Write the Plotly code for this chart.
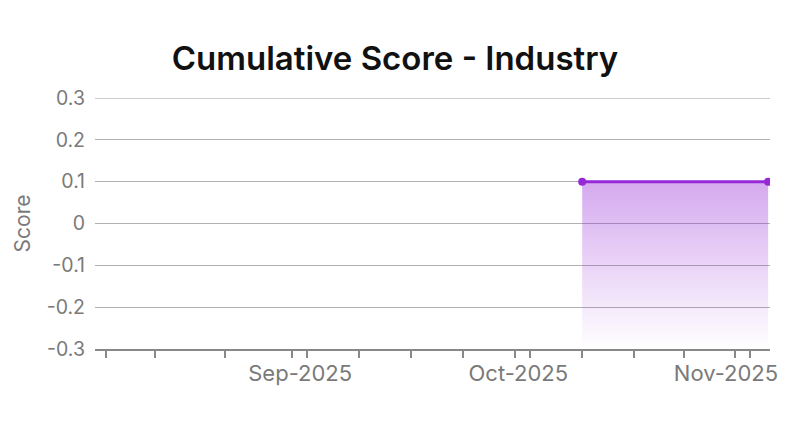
import plotly.graph_objects as go

# ---------------------------------------------------------------------------
# Data
# ---------------------------------------------------------------------------

dates = ["2025-10-08", "2025-11-02"]
scores = [0.1, 0.1]
score_floor = -0.3

x_range = ["2025-08-03 12:00", "2025-11-02 06:00"]

tick_dates = [
    "2025-08-05", "2025-08-11 12:00", "2025-08-21", "2025-08-30",
    "2025-09-01", "2025-09-08", "2025-09-15", "2025-09-22", "2025-09-29",
    "2025-10-01", "2025-10-08", "2025-10-15", "2025-10-21 18:00",
    "2025-10-28 12:00", "2025-10-30 12:00",
]
label_dates = ["2025-08-31 02:00", "2025-09-29 10:00", "2025-10-27 08:00"]
label_text = ["Sep-2025", "Oct-2025", "Nov-2025"]

y_ticks = [-0.3, -0.2, -0.1, 0, 0.1, 0.2, 0.3]
y_labels = ["-0.3", "-0.2", "-0.1", "0", "0.1", "0.2", "0.3"]

PURPLE = "rgb(150,40,215)"
GREY = "#7a7a7a"
GRID = "#b0b0b0"
FONT = "Inter"

# the page body adds an 8px offset, so margins are shifted to compensate
fig = go.Figure()

# invisible floor so the gradient runs all the way down to the axis
fig.add_trace(go.Scatter(
    x=dates, y=[score_floor] * len(dates),
    mode="lines", line=dict(width=0, color="rgba(0,0,0,0)"),
    hoverinfo="skip", showlegend=False,
))
fig.add_trace(go.Scatter(
    x=dates, y=scores,
    mode="lines+markers",
    line=dict(color=PURPLE, width=3),
    marker=dict(size=8, color=PURPLE),
    fill="tonexty",
    fillgradient=dict(
        type="vertical",
        start=score_floor, stop=max(scores),
        colorscale=[[0, "rgba(150,40,215,0.0)"], [1, "rgba(150,40,215,0.4)"]],
    ),
    name="Industry", showlegend=False,
))

# helper trace so the label axis gets drawn
fig.add_trace(go.Scatter(
    x=label_dates, y=[score_floor] * len(label_dates),
    xaxis="x2", mode="markers", marker=dict(opacity=0),
    hoverinfo="skip", showlegend=False,
))

fig.update_layout(
    width=800, height=431,
    paper_bgcolor="white", plot_bgcolor="white",
    margin=dict(l=87, r=38, t=90, b=90),
    font=dict(family=FONT, color=GREY),
    title=dict(
        text="Cumulative Score - Industry",
        x=387 / 800, xanchor="center", xref="container",
        y=1 - 50 / 431, yanchor="middle", yref="container",
        font=dict(family=FONT, size=33, color="#111111", weight=600),
    ),
    xaxis=dict(
        type="date", range=x_range,
        tickvals=tick_dates, ticktext=[""] * len(tick_dates),
        ticks="outside", ticklen=7, tickwidth=2, tickcolor="#888888",
        showline=True, linecolor="#888888", linewidth=2,
        showgrid=False, zeroline=False,
    ),
    xaxis2=dict(
        type="date", range=x_range, overlaying="x", side="bottom",
        tickvals=label_dates, ticktext=label_text,
        ticks="", showline=False, showgrid=False, zeroline=False,
        tickfont=dict(family=FONT, size=22, color=GREY),
        ticklabelstandoff=9,
    ),
    yaxis=dict(
        range=[-0.3, 0.3],
        tickvals=y_ticks, ticktext=y_labels,
        tickfont=dict(family=FONT, size=19.5, color=GREY),
        showgrid=True, gridcolor=GRID, gridwidth=1,
        zeroline=False, showline=False,
        ticklabelstandoff=9,
        title=dict(text="Score", standoff=10,
                   font=dict(family=FONT, size=21, color=GREY)),
    ),
    # top gridline sits on the plot edge, where plotly skips it
    shapes=[dict(
        type="line", xref="paper", yref="y",
        x0=0, x1=1, y0=max(y_ticks), y1=max(y_ticks),
        line=dict(color="#999999", width=1), layer="below",
    )],
)

fig.write_html("out.html")
